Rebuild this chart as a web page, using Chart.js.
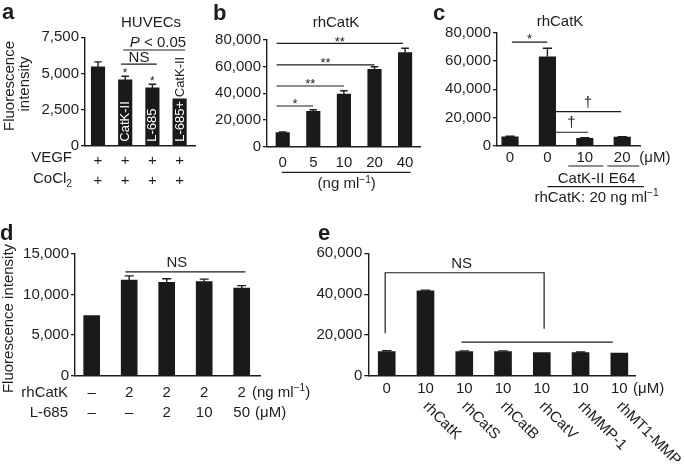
<!DOCTYPE html>
<html>
<head>
<meta charset="utf-8">
<script src="https://cdn.jsdelivr.net/npm/chart.js@4"></script>
<style>
  html, body { margin: 0; padding: 0; background: #fff; }
  #wrap { position: relative; width: 685px; height: 466px; overflow: hidden; }
  canvas { position: absolute; left: 0; top: 0; }
</style>
</head>
<body>
<div id="wrap">
  <canvas id="pa" width="685" height="466"></canvas>
  <canvas id="pb" width="685" height="466"></canvas>
  <canvas id="pc" width="685" height="466"></canvas>
  <canvas id="pd" width="685" height="466"></canvas>
  <canvas id="pe" width="685" height="466"></canvas>
</div>
<script>
// a: HUVECs
const aValues = [5450, 4550, 4000, 3250];
const aErrors = [350, 250, 250, 0];
const aVegf = ['+', '+', '+', '+'];
const aCocl = ['+', '+', '+', '+'];
const aBarText = ['', 'CatK-II', 'L-685', 'L-685+ CatK-II'];
const aStars = ['', '*', '*', ''];

// b: rhCatK dose (ng/ml)
const bDose = ['0', '5', '10', '20', '40'];
const bValues = [10500, 26500, 39500, 58000, 70500];
const bErrors = [500, 1200, 2500, 2000, 3300];

// c: inhibitors (uM)
const cDose = ['0', '0', '10', '20'];
const cValues = [6500, 63000, 5500, 6300];
const cErrors = [400, 6000, 300, 300];

// d: rhCatK + L-685
const dCatK = ['\u2013', '2', '2', '2', '2'];
const dL685 = ['\u2013', '\u2013', '2', '10', '50'];
const dValues = [7400, 11800, 11500, 11600, 10800];
const dErrors = [0, 500, 450, 300, 300];

// e: other proteases (uM)
const eDose = ['0', '10', '10', '10', '10', '10', '10'];
const eEnzymes = ['', 'rhCatK', 'rhCatS', 'rhCatB', 'rhCatV', 'rhMMP-1', 'rhMT1-MMP'];
const eValues = [12000, 41700, 12000, 12000, 11500, 11400, 11200];
const eErrors = [400, 300, 300, 300, 0, 300, 0];

const FONT = '"Liberation Sans", Arial, Helvetica, sans-serif';
const INK = '#1d1d1d';
const BAR = '#1a1a1a';
const YW = 60;

function setFont(ctx, size, style) {
  ctx.font = (style || '') + ' ' + size + 'px ' + FONT;
}

function text(ctx, s, x, y, size, align, style) {
  setFont(ctx, size, style);
  ctx.fillStyle = INK;
  ctx.textAlign = align || 'center';
  ctx.textBaseline = 'alphabetic';
  ctx.fillText(s, x, y);
}

// parts: [string, mode] with mode '', 'i', 'sup', 'sub'
function rich(ctx, parts, x, y, size, align) {
  const sz = p => (p[1] === 'sup' || p[1] === 'sub') ? size * 0.68 : size;
  const ws = parts.map(p => { setFont(ctx, sz(p), p[1] === 'i' ? 'italic' : ''); return ctx.measureText(p[0]).width; });
  const total = ws.reduce((a, b) => a + b, 0);
  let cx = align === 'center' ? x - total / 2 : align === 'right' ? x - total : x;
  ctx.fillStyle = INK; ctx.textAlign = 'left'; ctx.textBaseline = 'alphabetic';
  parts.forEach((p, i) => {
    setFont(ctx, sz(p), p[1] === 'i' ? 'italic' : '');
    const dy = p[1] === 'sup' ? -size * 0.38 : p[1] === 'sub' ? size * 0.22 : 0;
    ctx.fillText(p[0], cx, y + dy);
    cx += ws[i];
  });
}

function hline(ctx, x1, x2, y) {
  ctx.beginPath(); ctx.moveTo(x1, y); ctx.lineTo(x2, y); ctx.stroke();
}

// asterisks centred at cy
function star(ctx, s, x, cy, size) {
  text(ctx, s, x, cy + size * 0.57, size);
}

function errorBars(errs) {
  return {
    id: 'err',
    afterDatasetsDraw(c) {
      const ctx = c.ctx, y = c.scales.y;
      ctx.save();
      ctx.strokeStyle = INK; ctx.lineWidth = 1.4;
      c.getDatasetMeta(0).data.forEach((bar, i) => {
        const e = errs[i];
        if (!e) return;
        const v = c.data.datasets[0].data[i].y;
        const top = y.getPixelForValue(v + e);
        const w = bar.width * 0.28;
        ctx.beginPath();
        ctx.moveTo(bar.x, bar.y); ctx.lineTo(bar.x, top);
        ctx.moveTo(bar.x - w, top); ctx.lineTo(bar.x + w, top);
        ctx.stroke();
      });
      ctx.restore();
    }
  };
}

function panel(id, o) {
  return new Chart(document.getElementById(id), {
    type: 'bar',
    data: {
      datasets: [{
        data: o.values.map((v, i) => ({ x: i, y: v })),
        backgroundColor: BAR,
        borderWidth: 0,
        barThickness: o.barW
      }]
    },
    options: {
      responsive: false,
      animation: false,
      events: [],
      layout: { padding: { left: o.area[0] - YW, top: o.area[1], right: 685 - o.area[2], bottom: 466 - o.area[3] } },
      plugins: { legend: { display: false }, tooltip: { enabled: false } },
      scales: {
        x: {
          type: 'linear', min: o.xmin, max: o.xmax, offset: false,
          ticks: { display: false },
          grid: { display: false, drawTicks: false },
          border: { color: INK, width: 1.4 },
          afterFit: s => { s.height = 0; }
        },
        y: {
          min: 0, max: o.ymax,
          ticks: { stepSize: o.step, padding: 2, color: INK, font: { family: FONT, size: 15 },
                   callback: v => v.toLocaleString('en-US') },
          grid: { drawOnChartArea: false, tickLength: 4, color: INK, lineWidth: 1.3 },
          border: { color: INK, width: 1.4 },
          afterFit: s => { s.width = YW; }
        }
      }
    },
    plugins: [errorBars(o.errors), {
      id: 'deco',
      afterDraw(c) {
        const ctx = c.ctx;
        ctx.save();
        ctx.strokeStyle = INK; ctx.lineWidth = 1.2;
        o.deco(ctx, c.scales.x, c.scales.y, c);
        ctx.restore();
      }
    }]
  });
}

// ---- a ----
panel('pa', {
  values: aValues, errors: aErrors, area: [85, 37.3, 195, 145.7],
  xmin: -0.478, xmax: 3.566, barW: 13.5, ymax: 7500, step: 2500,
  deco(ctx, x, y, c) {
    const bottom = c.chartArea.bottom;
    text(ctx, 'a', 2, 18.5, 22, 'left', 'bold');
    text(ctx, 'HUVECs', 151, 26.5, 15);
    hline(ctx, x.getPixelForValue(0.93), x.getPixelForValue(3.2), y.getPixelForValue(6620));
    rich(ctx, [['P', 'i'], [' < 0.05', '']], 158, 47, 15, 'center');
    hline(ctx, x.getPixelForValue(0.85), x.getPixelForValue(2.16), y.getPixelForValue(5650));
    text(ctx, 'NS', 139, 61.5, 15);
    aStars.forEach((s, i) => {
      if (!s) return;
      star(ctx, s, x.getPixelForValue(i), y.getPixelForValue(aValues[i] + aErrors[i]) - 6, 12);
    });
    // labels written up the bars: white inside, dark above
    const bars = c.getDatasetMeta(0).data;
    aBarText.forEach((s, i) => {
      if (!s) return;
      const b = bars[i];
      const draw = col => {
        ctx.save();
        ctx.translate(b.x, bottom - 4);
        ctx.rotate(-Math.PI / 2);
        setFont(ctx, 13);
        ctx.fillStyle = col; ctx.textAlign = 'left'; ctx.textBaseline = 'middle';
        ctx.fillText(s, 0, 0.5);
        ctx.restore();
      };
      draw(INK);
      ctx.save();
      ctx.beginPath();
      ctx.rect(b.x - b.width / 2, b.y, b.width, b.base - b.y);
      ctx.clip();
      draw('#fff');
      ctx.restore();
    });
    // treatment rows
    text(ctx, 'VEGF', 72, bottom + 16, 15, 'right');
    rich(ctx, [['CoCl', ''], ['2', 'sub']], 72, bottom + 37.5, 15, 'right');
    aVegf.forEach((s, i) => text(ctx, s, x.getPixelForValue(i), bottom + 19, 15));
    aCocl.forEach((s, i) => text(ctx, s, x.getPixelForValue(i), bottom + 39.5, 15));
    // y title, two lines
    ctx.save();
    ctx.translate(14, 86); ctx.rotate(-Math.PI / 2);
    text(ctx, 'Fluorescence', 0, 0, 15);
    ctx.restore();
    ctx.save();
    ctx.translate(28.5, 84); ctx.rotate(-Math.PI / 2);
    text(ctx, 'intensity', 0, 0, 15);
    ctx.restore();
  }
});

// ---- b ----
panel('pb', {
  values: bValues, errors: bErrors, area: [267, 40, 420, 146.7],
  xmin: -0.513, xmax: 4.487, barW: 13.5, ymax: 80000, step: 20000,
  deco(ctx, x, y, c) {
    const bottom = c.chartArea.bottom;
    text(ctx, 'b', 213, 20, 22, 'left', 'bold');
    text(ctx, 'rhCatK', 336, 26.7, 15);
    [[3.93, 77500, '**'], [3.0, 61300, '**'], [2.0, 45500, '**'], [1.0, 30500, '*']].forEach(s => {
      const x1 = x.getPixelForValue(-0.2), x2 = x.getPixelForValue(s[0]), py = y.getPixelForValue(s[1]);
      hline(ctx, x1, x2, py);
      star(ctx, s[2], (x1 + x2) / 2, py - 5, 13);
    });
    bDose.forEach((s, i) => text(ctx, s, x.getPixelForValue(i), bottom + 20, 15));
    hline(ctx, x.getPixelForValue(-0.03), x.getPixelForValue(4.18), bottom + 25.6);
    rich(ctx, [['(ng ml', ''], ['\u22121', 'sup'], [')', '']], 346.7, bottom + 41.6, 15, 'center');
  }
});

// ---- c ----
panel('pc', {
  values: cValues, errors: cErrors, area: [497, 32.7, 640, 146],
  xmin: -0.348, xmax: 3.476, barW: 16.5, ymax: 80000, step: 20000,
  deco(ctx, x, y, c) {
    const bottom = c.chartArea.bottom;
    text(ctx, 'c', 433, 19.5, 22, 'left', 'bold');
    text(ctx, 'rhCatK', 560, 26, 15);
    let x1 = x.getPixelForValue(0.05), x2 = x.getPixelForValue(1.0), py = y.getPixelForValue(73400);
    hline(ctx, x1, x2, py);
    star(ctx, '*', (x1 + x2) / 2, py - 6, 13);
    [[2.97, 24300], [2.09, 9700]].forEach(s => {
      const a1 = x.getPixelForValue(1.2), a2 = x.getPixelForValue(s[0]), ly = y.getPixelForValue(s[1]);
      hline(ctx, a1, a2, ly);
      text(ctx, '\u2020', (a1 + a2) / 2, ly - 5, 15);
    });
    cDose.forEach((s, i) => text(ctx, s, x.getPixelForValue(i), bottom + 15.7, 15));
    text(ctx, '(\u03bcM)', 639.3, bottom + 15.7, 15, 'left');
    hline(ctx, x.getPixelForValue(1.558), x.getPixelForValue(2.494), bottom + 20);
    hline(ctx, x.getPixelForValue(2.601), x.getPixelForValue(3.457), bottom + 20);
    text(ctx, 'CatK-II', x.getPixelForValue(1.9), bottom + 36.7, 15);
    text(ctx, 'E64', x.getPixelForValue(3.0), bottom + 36.7, 15);
    hline(ctx, x.getPixelForValue(1.0), x.getPixelForValue(3.58), bottom + 40.7);
    rich(ctx, [['rhCatK: 20 ng ml', ''], ['\u22121', 'sup']], 596.5, bottom + 55.7, 15, 'center');
  }
});

// ---- d ----
panel('pd', {
  values: dValues, errors: dErrors, area: [75, 254, 260, 375.7],
  xmin: -0.445, xmax: 4.488, barW: 16, ymax: 15000, step: 5000,
  deco(ctx, x, y, c) {
    const bottom = c.chartArea.bottom;
    text(ctx, 'd', 0, 240, 22, 'left', 'bold');
    const ly = y.getPixelForValue(12800);
    hline(ctx, x.getPixelForValue(0.9), x.getPixelForValue(4.1), ly);
    text(ctx, 'NS', x.getPixelForValue(2.27), ly - 5, 15);
    text(ctx, 'rhCatK', 68, bottom + 21, 15, 'right');
    text(ctx, 'L-685', 68, bottom + 41.6, 15, 'right');
    dCatK.forEach((s, i) => text(ctx, s, x.getPixelForValue(i), bottom + 21, 15));
    dL685.forEach((s, i) => text(ctx, s, x.getPixelForValue(i), bottom + 41.6, 15));
    rich(ctx, [['(ng ml', ''], ['\u22121', 'sup'], [')', '']], 252, bottom + 21, 15, 'left');
    text(ctx, '(\u03bcM)', 255, bottom + 41.6, 15, 'left');
    ctx.save();
    ctx.translate(12.5, 318.5); ctx.rotate(-Math.PI / 2);
    text(ctx, 'Fluorescence intensity', 0, 0, 15);
    ctx.restore();
  }
});

// ---- e ----
panel('pe', {
  values: eValues, errors: eErrors, area: [368.3, 253.3, 635, 376],
  xmin: -0.475, xmax: 6.404, barW: 17, ymax: 60000, step: 20000,
  deco(ctx, x, y, c) {
    const bottom = c.chartArea.bottom;
    text(ctx, 'e', 318, 240, 22, 'left', 'bold');
    const xl = x.getPixelForValue(-0.04), xr = x.getPixelForValue(4.06), top = y.getPixelForValue(50500);
    ctx.beginPath();
    ctx.moveTo(xl, y.getPixelForValue(20900));
    ctx.lineTo(xl, top); ctx.lineTo(xr, top);
    ctx.lineTo(xr, y.getPixelForValue(23100));
    ctx.stroke();
    hline(ctx, x.getPixelForValue(1.93), x.getPixelForValue(5.83), y.getPixelForValue(16600));
    text(ctx, 'NS', 461.7, 268.3, 15);
    eDose.forEach((s, i) => text(ctx, s, x.getPixelForValue(i), bottom + 16.7, 15));
    text(ctx, '(\u03bcM)', 633, bottom + 16.7, 15, 'left');
    eEnzymes.forEach((s, i) => {
      if (!s) return;
      ctx.save();
      ctx.translate(x.getPixelForValue(i) - 3, bottom + 31);
      ctx.rotate(Math.PI / 4);
      text(ctx, s, 0, 0, 15, 'left');
      ctx.restore();
    });
  }
});
</script>
</body>
</html>
